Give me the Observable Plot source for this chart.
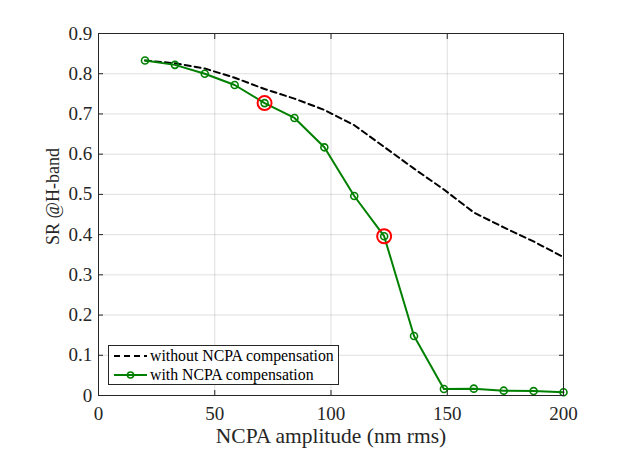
<!DOCTYPE html>
<html>
<head>
<meta charset="utf-8">
<script src="https://cdn.jsdelivr.net/npm/d3@7"></script>
<script src="https://cdn.jsdelivr.net/npm/@observablehq/plot@0.6"></script>
<style>
  html, body { margin: 0; padding: 0; background: #fff; }
  #wrap { position: relative; width: 637px; height: 472px; font-family: "Liberation Serif", "Times New Roman", "Nimbus Roman", "DejaVu Serif", "Noto Serif", FreeSerif, serif; }
  #wrap svg text { font-family: "Liberation Serif", "Times New Roman", "Nimbus Roman", "DejaVu Serif", "Noto Serif", FreeSerif, serif; }
  #legend { position: absolute; left: 108px; top: 345px; width: 231px; height: 40px;
            border: 1px solid #262626; background: #fff; box-sizing: border-box; }
  .row { position: absolute; left: 0; height: 18px; display: flex; align-items: center; font-size: 15.8px; color: #000; white-space: nowrap; }
  .row svg { margin-left: 5px; margin-right: 3px; }
</style>
</head>
<body>
<div id="wrap"></div>
<script>
const amplitude = [20, 32.86, 45.71, 58.57, 71.43, 84.29, 97.14, 110, 122.86, 135.71, 148.57, 161.43, 174.29, 187.14, 200];
const srWithout = [0.833, 0.826, 0.813, 0.790, 0.762, 0.738, 0.710, 0.672, 0.618, 0.564, 0.512, 0.455, 0.418, 0.383, 0.344];
const srWith = [0.833, 0.822, 0.800, 0.772, 0.727, 0.690, 0.617, 0.496, 0.396, 0.148, 0.016, 0.017, 0.012, 0.011, 0.008];
const highlighted = [4, 8];
const xTicks = [0, 50, 100, 150, 200];
const yTicks = [0, 0.1, 0.2, 0.3, 0.4, 0.5, 0.6, 0.7, 0.8, 0.9];
const yTickLabels = ["0", "0.1", "0.2", "0.3", "0.4", "0.5", "0.6", "0.7", "0.8", "0.9"];
const xTitle = "NCPA amplitude (nm rms)";
const yTitle = "SR @H-band";
const legendLabels = ["without NCPA compensation", "with NCPA compensation"];

const without = amplitude.map((x, i) => ({x, y: srWithout[i]}));
const withc = amplitude.map((x, i) => ({x, y: srWith[i]}));
const hi = highlighted.map(i => withc[i]);
const axisColor = "#262626";
const serif = "'Liberation Serif', 'Times New Roman', 'Nimbus Roman', 'DejaVu Serif', 'Noto Serif', FreeSerif, serif";

const chart = Plot.plot({
  width: 637,
  height: 472,
  marginLeft: 98,
  marginRight: 74,
  marginTop: 33,
  marginBottom: 77,
  style: {fontFamily: serif, background: "white", color: "#262626"},
  x: {domain: [0, 200], label: null},
  y: {domain: [0, 0.9], label: null},
  marks: [
    Plot.gridX(xTicks, {stroke: axisColor, strokeOpacity: 0.15}),
    Plot.gridY(yTicks, {stroke: axisColor, strokeOpacity: 0.15}),
    Plot.line(without, {x: "x", y: "y", stroke: "black", strokeWidth: 2, strokeDasharray: "6,4"}),
    Plot.line(withc, {x: "x", y: "y", stroke: "#008000", strokeWidth: 2}),
    Plot.dot(withc, {x: "x", y: "y", r: 3.5, stroke: "#008000", strokeWidth: 1.6, fill: "none"}),
    Plot.dot(hi, {x: "x", y: "y", r: 7, stroke: "red", strokeWidth: 2, fill: "none"}),
    Plot.frame({stroke: axisColor, strokeWidth: 1}),
    Plot.axisX(xTicks, {anchor: "bottom", tickSize: 5, dy: -5, tickPadding: 10.5, fontSize: 19, stroke: axisColor, fill: "#262626", label: null}),
    Plot.axisX(xTicks, {anchor: "top", tickSize: 5, dy: 5, tickFormat: () => "", stroke: axisColor, label: null}),
    Plot.axisY(yTicks, {anchor: "left", tickSize: 5, dx: 5, tickPadding: 6.3, fontSize: 19, tickFormat: (d) => yTickLabels[yTicks.indexOf(d)], stroke: axisColor, fill: "#262626", label: null}),
    Plot.axisY(yTicks, {anchor: "right", tickSize: 5, dx: -5, tickFormat: () => "", stroke: axisColor, label: null}),
    Plot.text([xTitle], {text: d => d, frameAnchor: "bottom", textAnchor: "middle", dy: 47, lineAnchor: "bottom", fontSize: 21.5, fill: "#262626"}),
    Plot.text([yTitle], {text: d => d, frameAnchor: "left", textAnchor: "middle", dx: -39.5, dy: -18, rotate: -90, lineAnchor: "bottom", fontSize: 18, fill: "#262626"})
  ]
});
const wrap = document.getElementById("wrap");
wrap.appendChild(chart);

const legend = document.createElement("div");
legend.id = "legend";
legend.innerHTML = `
  <div class="row" style="top:1px">
    <svg width="33" height="10"><line x1="0" y1="5" x2="33" y2="5" stroke="black" stroke-width="2" stroke-dasharray="6,4"/></svg>${legendLabels[0]}
  </div>
  <div class="row" style="top:20px">
    <svg width="33" height="10"><line x1="0" y1="5" x2="33" y2="5" stroke="#008000" stroke-width="2"/><circle cx="16.5" cy="5" r="3" fill="none" stroke="#008000" stroke-width="1.6"/></svg>${legendLabels[1]}
  </div>`;
wrap.appendChild(legend);
</script>
</body>
</html>
